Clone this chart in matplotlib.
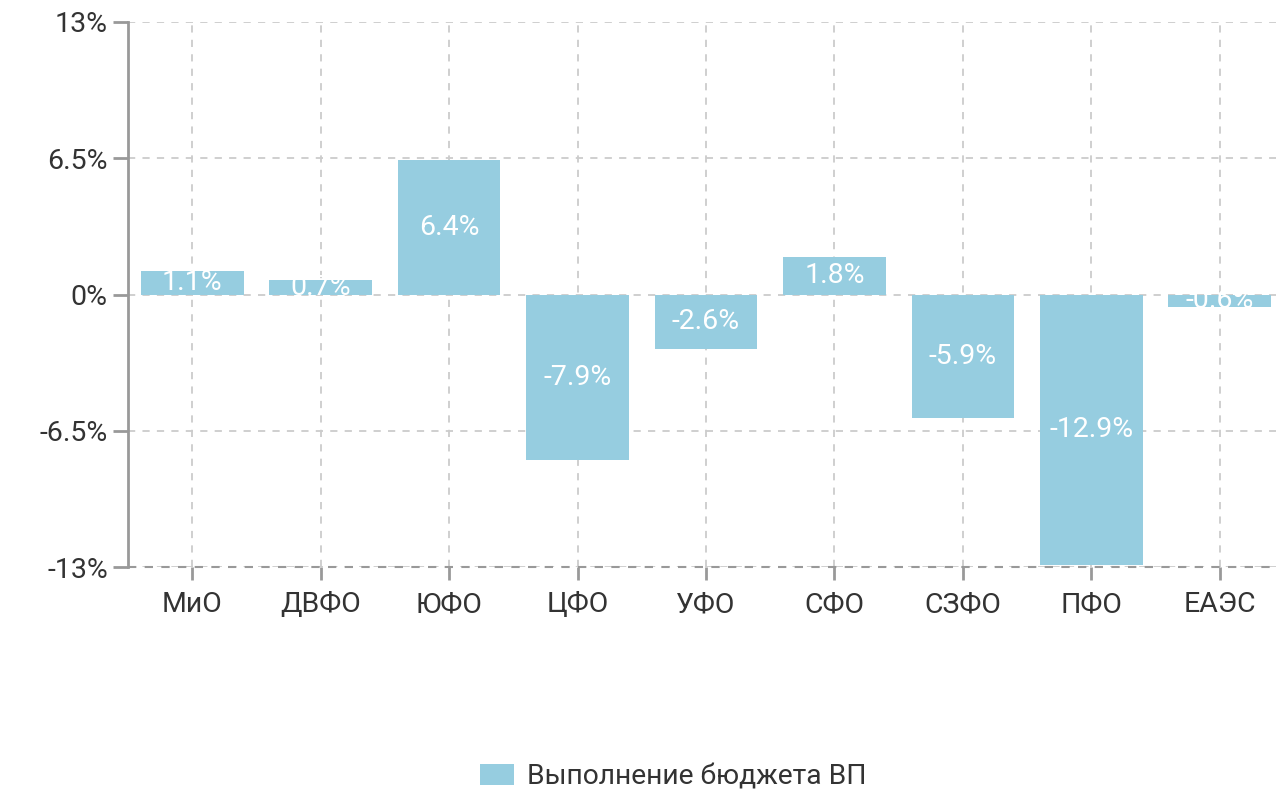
import matplotlib
matplotlib.use("Agg")
import matplotlib.pyplot as plt
from matplotlib.patches import Patch

plt.rcParams['font.family'] = ['Roboto', 'DejaVu Sans']

categories = ["МиО", "ДВФО", "ЮФО", "ЦФО", "УФО", "СФО", "СЗФО", "ПФО", "ЕАЭС"]
values = [1.1, 0.7, 6.4, -7.9, -2.6, 1.8, -5.9, -12.9, -0.6]
yticks = [-13, -6.5, 0, 6.5, 13]
ytick_labels = ["-13%", "-6.5%", "0%", "6.5%", "13%"]
series_name = "Выполнение бюджета ВП"

bar_color = "#96cde0"
text_color = "#333333"
grid_color = "#cccccc"

fig = plt.figure(figsize=(12.76, 7.97), dpi=100)
ax = fig.add_axes([128/1276, 230/797, 1156/1276, 545/797])

x = list(range(len(categories)))
bars = ax.bar(x, values, width=0.8, color=bar_color, zorder=2)
for xi, v in zip(x, values):
    ax.text(xi, v/2, f"{v:.1f}%", ha="center", va="center", color="white",
            fontsize=20.5, zorder=3)

ax.set_xlim(-0.5, len(categories) - 0.5)
ax.set_ylim(-13, 13)
ax.set_yticks(yticks)
ax.set_yticklabels(ytick_labels)
ax.set_xticks(x)
ax.set_xticklabels(categories)

ax.grid(True, color=grid_color, linestyle=(0, (4, 4)), linewidth=1.3, zorder=0)
ax.set_axisbelow(True)

for s in ["top", "right", "bottom"]:
    ax.spines[s].set_visible(False)
ax.spines["left"].set_color("#999999")
ax.spines["left"].set_linewidth(2)

ax.tick_params(axis="y", length=11, width=2, color="#999999", labelsize=20.5,
               labelcolor=text_color, pad=3.5)
ax.tick_params(axis="x", length=9.5, width=2, color="#999999", labelsize=20.5,
               labelcolor=text_color, pad=8)

# dashed baseline at bottom (darker)
ax.axhline(-13, color="#999999", linestyle=(0, (4, 4)), linewidth=1.5, zorder=1, clip_on=False)

handle = Patch(facecolor=bar_color, edgecolor="none")
fig.legend([handle], [series_name], loc="center", bbox_to_anchor=(673/1276, 1 - 777/797),
           frameon=False, fontsize=20.3, labelcolor=text_color,
           handlelength=1.2, handleheight=0.75, handletextpad=0.45)

fig.savefig("out.png", dpi=100)
